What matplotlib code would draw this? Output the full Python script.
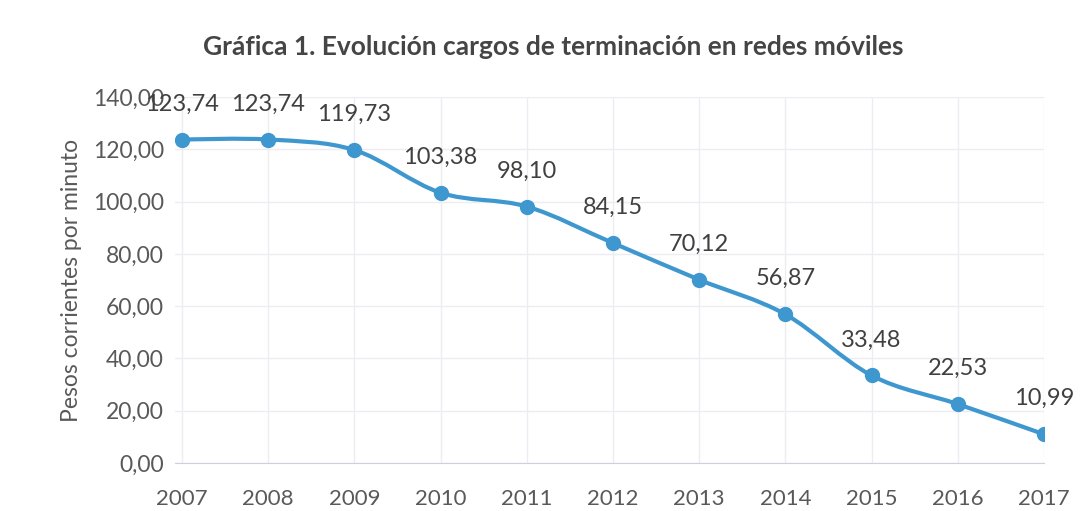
import numpy as np
import matplotlib
matplotlib.use('Agg')
import matplotlib.pyplot as plt
from matplotlib.path import Path
from matplotlib.patches import PathPatch

years = [2007, 2008, 2009, 2010, 2011, 2012, 2013, 2014, 2015, 2016, 2017]
cargos = [123.74, 123.74, 119.73, 103.38, 98.10, 84.15, 70.12, 56.87, 33.48, 22.53, 10.99]
etiquetas = ['123,74', '123,74', '119,73', '103,38', '98,10', '84,15',
             '70,12', '56,87', '33,48', '22,53', '10,99']
yticks = [0, 20, 40, 60, 80, 100, 120, 140]

plt.rcParams['font.family'] = ['Lato', 'DejaVu Sans']
azul = '#3f97cf'
gris = '#595959'

fig = plt.figure(figsize=(10.89, 5.11), dpi=100)
ax = fig.add_axes([175/1089, 1 - 463/511, (1044 - 175)/1089, (463 - 97)/511])

# suavizado tipo Excel (Catmull-Rom -> Bezier)
x = np.array(years, dtype=float)
y = np.array(cargos)
verts = [(x[0], y[0])]
codes = [Path.MOVETO]
for i in range(len(x) - 1):
    p0 = np.array([x[max(i - 1, 0)], y[max(i - 1, 0)]])
    p1 = np.array([x[i], y[i]])
    p2 = np.array([x[i + 1], y[i + 1]])
    p3 = np.array([x[min(i + 2, len(x) - 1)], y[min(i + 2, len(x) - 1)]])
    c1 = p1 + (p2 - p0) / 6
    c2 = p2 - (p3 - p1) / 6
    verts += [tuple(c1), tuple(c2), tuple(p2)]
    codes += [Path.CURVE4] * 3
ax.add_patch(PathPatch(Path(verts, codes), fill=False, edgecolor=azul, lw=3, zorder=3))
ax.plot(years, cargos, 'o', color=azul, markersize=10, zorder=4)

for xi, yi, t in zip(years, cargos, etiquetas):
    ax.annotate(t, (xi, yi), xytext=(0, 18), textcoords='offset points',
                ha='center', va='bottom', fontsize=17, color='#404040')

ax.set_xlim(2006.92, 2017.0)
ax.set_ylim(0, 140)
ax.set_xticks(years)
ax.set_yticks(yticks)
ax.set_yticklabels(['%d,00' % v for v in yticks])
ax.tick_params(axis='both', length=0, labelcolor=gris)
ax.tick_params(axis='x', pad=19, labelsize=16)
ax.tick_params(axis='y', pad=8, labelsize=16.5)
ax.grid(True, color='#ececf2', lw=1)
ax.set_axisbelow(True)
for s in ['top', 'right', 'left']:
    ax.spines[s].set_visible(False)
ax.spines['bottom'].set_color('#d0d0dc')

ax.set_ylabel('Pesos corrientes por minuto', fontsize=16.5, color=gris, labelpad=8)
fig.text(553/1089, 1 - 47/511, 'Gráfica 1. Evolución cargos de terminación en redes móviles',
         ha='center', va='center', fontsize=19, fontweight='bold', color='#454545')

fig.savefig('out.png', dpi=100)
